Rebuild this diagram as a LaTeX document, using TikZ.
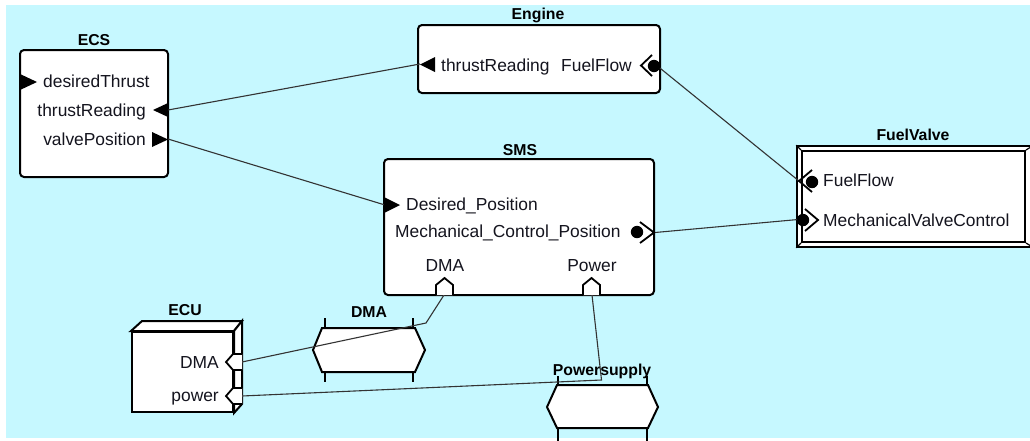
\documentclass[tikz,border=0pt]{standalone}
\usepackage{fontspec}
\setmainfont{Liberation Sans}
\definecolor{canvas}{RGB}{198,248,255}
\definecolor{ink}{RGB}{20,20,30}
\tikzset{
  blk/.style={draw=black, line width=2pt, fill=white, rounded corners=4pt, inner sep=0pt},
  plainblk/.style={draw=black, line width=2pt, fill=white, inner sep=0pt},
  ttl/.style={font=\fontsize{15.8}{18}\selectfont\bfseries, inner sep=0pt, text=black},
  lbl/.style={font=\fontsize{17.4}{20}\selectfont, inner sep=0pt, text=ink},
  wire/.style={draw=black!80, line width=1.1pt},
  tri/.style={fill=black},
  chev/.style={draw=black, line width=1.8pt, line join=miter},
  dot/.style={fill=black},
  house/.style={draw=black, line width=1.8pt, fill=white, line join=miter},
  flow/.style={draw=black, line width=2pt, fill=white, line join=miter},
  tick/.style={draw=black, line width=1.6pt},
}
\begin{document}
\begin{tikzpicture}[x=1pt, y=-1pt]
\useasboundingbox (0,0) rectangle (1030,440);
% canvas
\fill[canvas] (6,5) rectangle (1031,438);

% ---- blocks ----
\node[blk, minimum width=148pt, minimum height=127pt] (ecs) at (94,113.5) {};
\node[ttl, anchor=base] (ecs-t) at (94,45) {ECS};
\node[blk, minimum width=242pt, minimum height=68pt] (engine) at (539,59) {};
\node[ttl, anchor=base] (engine-t) at (538,19.5) {Engine};
\node[blk, minimum width=270pt, minimum height=136pt] (sms) at (519,227) {};
\node[ttl, anchor=base] (sms-t) at (520,155) {SMS};

% FuelValve: bevelled frame
\node[draw=black, line width=1.6pt, fill=white, minimum width=236pt, minimum height=101pt, inner sep=0pt] (fv) at (915,196.5) {};
\node[plainblk, minimum width=223pt, minimum height=91pt] (fvin) at (913.5,196.5) {};
\draw[black, line width=1.2pt] (fv.north west) -- (fvin.north west) (fv.south west) -- (fvin.south west)
  (fv.north east) -- (fvin.north east) (fv.south east) -- (fvin.south east);
\node[ttl, anchor=base] (fv-t) at (913,140.7) {FuelValve};

% ECU: box drawn in perspective
\node[plainblk, minimum width=101pt, minimum height=80pt] (ecu) at (182.5,372) {};
\filldraw[fill=white, draw=black, line width=2pt, line join=miter]
  (ecu.north west) -- (142,321) -- (242,321) -- (ecu.north east) -- cycle;
\filldraw[fill=white, draw=black, line width=2pt, line join=miter]
  (ecu.north east) -- (242,321) -- (242,404) -- (ecu.south east) -- cycle;
\node[ttl, anchor=base] (ecu-t) at (185,315) {ECU};

% ---- flow items ----
\node[ttl, anchor=base] (dma-t) at (369,317.7) {DMA};
\draw[tick] (325,318) -- (325,382) (413,318) -- (413,382);
\filldraw[flow] (313,350) -- (322,328) -- (415,328) -- (425,350) -- (415,372) -- (322,372) -- cycle;
\node[inner sep=0pt] (dma) at (369,350) {};

\node[ttl, anchor=base] (ps-t) at (602,375) {Powersupply};
\draw[tick] (558,376) -- (558,446) (647,376) -- (647,446);
\filldraw[flow] (547,407) -- (557,385) -- (648,385) -- (658,407) -- (648,428) -- (557,428) -- cycle;
\node[inner sep=0pt] (ps) at (602,407) {};

% ---- port labels ----
\node[lbl, anchor=base west] (ecs-l1) at (43,87.3) {desiredThrust};
\node[lbl, anchor=base east] (ecs-l2) at (146,116.5) {thrustReading};
\node[lbl, anchor=base east] (ecs-l3) at (146,145) {valvePosition};
\node[lbl, anchor=base west] (eng-l1) at (441,71) {thrustReading};
\node[lbl, anchor=base east] (eng-l2) at (632,71) {FuelFlow};
\node[lbl, anchor=base west] (sms-l1) at (406,210) {Desired\_Position};
\node[lbl, anchor=base west] (sms-l2) at (395,237.5) {Mechanical\_Control\_Position};
\node[lbl, anchor=base] (sms-l3) at (445,271.7) {DMA};
\node[lbl, anchor=base] (sms-l4) at (592,271.7) {Power};
\node[lbl, anchor=base west] (fv-l1) at (823,186.5) {FuelFlow};
\node[lbl, anchor=base west] (fv-l2) at (823,226) {MechanicalValveControl};
\node[lbl, anchor=base east] (ecu-l1) at (219,368) {DMA};
\node[lbl, anchor=base east] (ecu-l2) at (219,401) {power};

% ---- port anchors ----
\coordinate (ecs-tr) at (168,110);
\coordinate (ecs-vp) at (168,139);
\coordinate (eng-tr) at (420,64);
\coordinate (eng-ff) at (658,66.5);
\coordinate (sms-dp) at (385,205);
\coordinate (sms-mcp) at (655,232.5);
\coordinate (sms-dma) at (444,295);
\coordinate (sms-pow) at (592,295);
\coordinate (fv-ff) at (799,181);
\coordinate (fv-mvc) at (798,219.5);
\coordinate (ecu-dma) at (242,362);
\coordinate (ecu-pow) at (242,396);
\coordinate (dma-bend) at (426,323);
\coordinate (pow-bend) at (601.5,380);

% ---- connectors ----
\draw[wire] (eng-tr) -- (ecs-tr);
\draw[wire] (ecs-vp) -- (sms-dp);
\draw[wire] (eng-ff) -- (fv-ff);
\draw[wire] (sms-mcp) -- (fv-mvc);
\draw[wire] (sms-dma) -- (dma-bend) -- (ecu-dma);
\draw[wire] (sms-pow) -- (pow-bend) -- (ecu-pow);

% ---- port symbols ----
% ECS
\fill[tri] (20,74) -- (37,82) -- (20,90) -- cycle;
\fill[tri] (168,103) -- (153,110) -- (168,117) -- cycle;
\fill[tri] (152,132) -- (168,139.5) -- (152,147) -- cycle;
% Engine
\fill[tri] (435,57) -- (420,64.5) -- (435,72) -- cycle;
\draw[chev] (652,55) -- (641,65.5) -- (652,76);
\fill[dot] (654,66) circle[radius=6.2pt];
% SMS
\fill[tri] (384,197) -- (400,205) -- (384,213) -- cycle;
\fill[dot] (637,232) circle[radius=6.2pt];
\draw[chev] (640,222) -- (654,232.5) -- (640,243);
\filldraw[house] (436,295) -- (436,285) -- (444.5,278) -- (453,285) -- (453,295);
\filldraw[house] (583,295) -- (583,285) -- (591.5,278) -- (600,285) -- (600,295);
% FuelValve
\draw[chev] (812,170) -- (799,181) -- (812,192);
\fill[dot] (812,182) circle[radius=6.2pt];
\fill[dot] (803,220) circle[radius=6.2pt];
\draw[chev] (805,209) -- (818,220) -- (805,231);
% ECU
\filldraw[house] (242,354) -- (233,354) -- (226,362) -- (233,370) -- (242,370);
\filldraw[house] (242,388) -- (233,388) -- (226,396) -- (233,404) -- (242,404);
\end{tikzpicture}
\end{document}
